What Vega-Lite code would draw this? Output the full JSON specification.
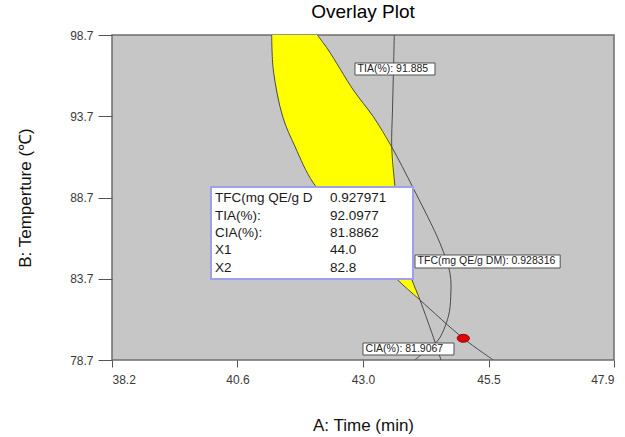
{
  "$schema": "https://vega.github.io/schema/vega-lite/v6.json",
  "width": 502,
  "height": 325,
  "autosize": {"type": "none"},
  "padding": {"left": 112, "top": 35, "right": 11, "bottom": 77},
  "background": "#ffffff",
  "title": {"text": "Overlay Plot", "font": "Liberation Sans", "fontSize": 19, "fontWeight": "normal", "color": "#000000", "anchor": "middle", "offset": 7},
  "datasets": {
    "yellow": [
      {"y": 98.7, "xl": 41.286, "xr": 42.167},
      {"y": 97.777, "xl": 41.297, "xr": 42.38},
      {"y": 96.546, "xl": 41.317, "xr": 42.625},
      {"y": 95.315, "xl": 41.388, "xr": 42.863},
      {"y": 93.654, "xl": 41.5, "xr": 43.249},
      {"y": 91.808, "xl": 41.74, "xr": 43.605},
      {"y": 89.592, "xl": 42.09, "xr": 43.665},
      {"y": 87.008, "xl": 42.799, "xr": 43.746},
      {"y": 84.854, "xl": 43.379, "xr": 43.881},
      {"y": 83.685, "xl": 43.701, "xr": 43.991},
      {"y": 82.392, "xl": 44.151, "xr": 44.151}
    ],
    "lines": [
      {"c": "TIA", "i": 0, "x": 43.655, "y": 98.7},
      {"c": "TIA", "i": 1, "x": 43.639, "y": 96.546},
      {"c": "TIA", "i": 2, "x": 43.62, "y": 94.085},
      {"c": "TIA", "i": 3, "x": 43.605, "y": 91.808},
      {"c": "TIA", "i": 4, "x": 43.668, "y": 89.346},
      {"c": "TIA", "i": 5, "x": 43.726, "y": 87.315},
      {"c": "TIA", "i": 6, "x": 43.823, "y": 85.469},
      {"c": "TIA", "i": 7, "x": 43.991, "y": 83.685},
      {"c": "TIA", "i": 8, "x": 44.151, "y": 82.392},
      {"c": "TIA", "i": 9, "x": 44.441, "y": 79.808},
      {"c": "TIA", "i": 10, "x": 44.557, "y": 78.7},
      {"c": "TFC", "i": 0, "x": 42.167, "y": 98.7},
      {"c": "TFC", "i": 1, "x": 42.38, "y": 97.777},
      {"c": "TFC", "i": 2, "x": 42.863, "y": 95.315},
      {"c": "TFC", "i": 3, "x": 43.249, "y": 93.672},
      {"c": "TFC", "i": 4, "x": 43.605, "y": 91.808},
      {"c": "TFC", "i": 5, "x": 44.022, "y": 89.266},
      {"c": "TFC", "i": 6, "x": 44.538, "y": 85.882},
      {"c": "TFC", "i": 7, "x": 44.731, "y": 84.035},
      {"c": "TFC", "i": 8, "x": 44.745, "y": 82.595},
      {"c": "TFC", "i": 9, "x": 44.698, "y": 81.365},
      {"c": "TFC", "i": 10, "x": 44.505, "y": 79.931},
      {"c": "TFC", "i": 11, "x": 44.345, "y": 79.5},
      {"c": "TFC", "i": 12, "x": 44.055, "y": 78.7},
      {"c": "CIA", "i": 0, "x": 41.286, "y": 98.7},
      {"c": "CIA", "i": 1, "x": 41.317, "y": 96.546},
      {"c": "CIA", "i": 2, "x": 41.5, "y": 93.654},
      {"c": "CIA", "i": 3, "x": 41.74, "y": 91.808},
      {"c": "CIA", "i": 4, "x": 42.09, "y": 89.592},
      {"c": "CIA", "i": 5, "x": 42.799, "y": 87.008},
      {"c": "CIA", "i": 6, "x": 43.379, "y": 84.854},
      {"c": "CIA", "i": 7, "x": 43.701, "y": 83.685},
      {"c": "CIA", "i": 8, "x": 44.151, "y": 82.392},
      {"c": "CIA", "i": 9, "x": 44.988, "y": 80.035},
      {"c": "CIA", "i": 10, "x": 45.568, "y": 78.7}
    ],
    "boxes": [
      {"x1": 42.895, "x2": 44.441, "y1": 96.977, "y2": 96.238},
      {"x1": 44.055, "x2": 46.86, "y1": 85.162, "y2": 84.362},
      {"x1": 43.05, "x2": 44.808, "y1": 79.746, "y2": 79.008}
    ],
    "labels": [
      {"x": 42.945, "y": 96.608, "t": "TIA(%): 91.885"},
      {"x": 44.105, "y": 84.762, "t": "TFC(mg QE/g DM): 0.928316"},
      {"x": 43.1, "y": 79.377, "t": "CIA(%): 81.9067"}
    ],
    "legendbox": [
      {"x1": 40.113, "x2": 44.016, "y1": 89.346, "y2": 83.685}
    ],
    "legendtext": [
      {"x": 40.19, "y": 88.651, "t": "TFC(mg QE/g D"},
      {"x": 42.412, "y": 88.651, "t": "0.927971"},
      {"x": 40.19, "y": 87.586, "t": "TIA(%):"},
      {"x": 42.412, "y": 87.586, "t": "92.0977"},
      {"x": 40.19, "y": 86.515, "t": "CIA(%):"},
      {"x": 42.412, "y": 86.515, "t": "81.8862"},
      {"x": 40.19, "y": 85.451, "t": "X1"},
      {"x": 42.412, "y": 85.451, "t": "44.0"},
      {"x": 40.19, "y": 84.386, "t": "X2"},
      {"x": 42.412, "y": 84.386, "t": "82.8"}
    ],
    "opt": [
      {"x": 44.988, "y": 80.035}
    ]
  },
  "layer": [
    {
      "data": {"name": "yellow"},
      "mark": {"type": "area", "orient": "horizontal", "color": "#ffff00", "opacity": 1, "interpolate": "catmull-rom", "clip": true},
      "encoding": {
        "y": {"field": "y", "type": "quantitative", "scale": {"domain": [78.7, 98.7], "nice": false, "zero": false},
          "axis": {"values": [78.7, 83.7, 88.7, 93.7, 98.7], "format": ".1f", "tickSize": 14, "labelPadding": 5,
            "title": "B: Temperture (℃)", "titleX": -87, "titleY": 162.5, "titleAngle": -90, "titleAlign": "center", "titleBaseline": "middle"}},
        "x": {"field": "xl", "type": "quantitative", "scale": {"domain": [38.2, 47.9], "nice": false, "zero": false},
          "axis": {"values": [38.2, 40.625, 43.05, 45.475, 47.9], "format": ".1f", "tickSize": 7, "labelPadding": 7,
            "title": "A: Time (min)", "titleX": 251, "titleY": 65, "titleAlign": "center", "titleBaseline": "middle"}},
        "x2": {"field": "xr"}
      }
    },
    {
      "data": {"name": "lines"},
      "mark": {"type": "line", "stroke": "#4a4a4a", "strokeWidth": 1, "interpolate": "catmull-rom", "clip": true},
      "encoding": {
        "x": {"field": "x", "type": "quantitative"},
        "y": {"field": "y", "type": "quantitative"},
        "detail": {"field": "c"},
        "order": {"field": "i"}
      }
    },
    {
      "data": {"name": "boxes"},
      "mark": {"type": "rect", "fill": "#ffffff", "stroke": "#505050", "strokeWidth": 1},
      "encoding": {
        "x": {"field": "x1", "type": "quantitative"},
        "x2": {"field": "x2"},
        "y": {"field": "y1", "type": "quantitative"},
        "y2": {"field": "y2"}
      }
    },
    {
      "data": {"name": "labels"},
      "mark": {"type": "text", "align": "left", "baseline": "middle", "font": "Liberation Sans", "fontSize": 10.5, "color": "#222222"},
      "encoding": {
        "x": {"field": "x", "type": "quantitative"},
        "y": {"field": "y", "type": "quantitative"},
        "text": {"field": "t"}
      }
    },
    {
      "data": {"name": "opt"},
      "mark": {"type": "point", "shape": "M-1,0A1,0.65 0 1,1 1,0A1,0.65 0 1,1 -1,0Z", "size": 150, "filled": true, "fill": "#e00000", "stroke": "#700000", "strokeWidth": 0.8, "opacity": 1},
      "encoding": {
        "x": {"field": "x", "type": "quantitative"},
        "y": {"field": "y", "type": "quantitative"}
      }
    },
    {
      "data": {"name": "legendbox"},
      "mark": {"type": "rect", "fill": "#ffffff", "stroke": "#a0a0ea", "strokeWidth": 2},
      "encoding": {
        "x": {"field": "x1", "type": "quantitative"},
        "x2": {"field": "x2"},
        "y": {"field": "y1", "type": "quantitative"},
        "y2": {"field": "y2"}
      }
    },
    {
      "data": {"name": "legendtext"},
      "mark": {"type": "text", "align": "left", "baseline": "middle", "font": "Liberation Sans", "fontSize": 13.5, "color": "#1a1a1a"},
      "encoding": {
        "x": {"field": "x", "type": "quantitative"},
        "y": {"field": "y", "type": "quantitative"},
        "text": {"field": "t"}
      }
    }
  ],
  "config": {
    "view": {"stroke": "#6e6e6e", "strokeWidth": 1.5, "fill": "#c6c6c6"},
    "axis": {
      "grid": false,
      "domain": false,
      "labelFont": "Liberation Sans",
      "labelFontSize": 12,
      "labelColor": "#3a3a3a",
      "tickColor": "#555555",
      "tickWidth": 1,
      "titleFont": "Liberation Sans",
      "titleFontSize": 17,
      "titleFontWeight": "normal",
      "titleColor": "#111111"
    }
  }
}
